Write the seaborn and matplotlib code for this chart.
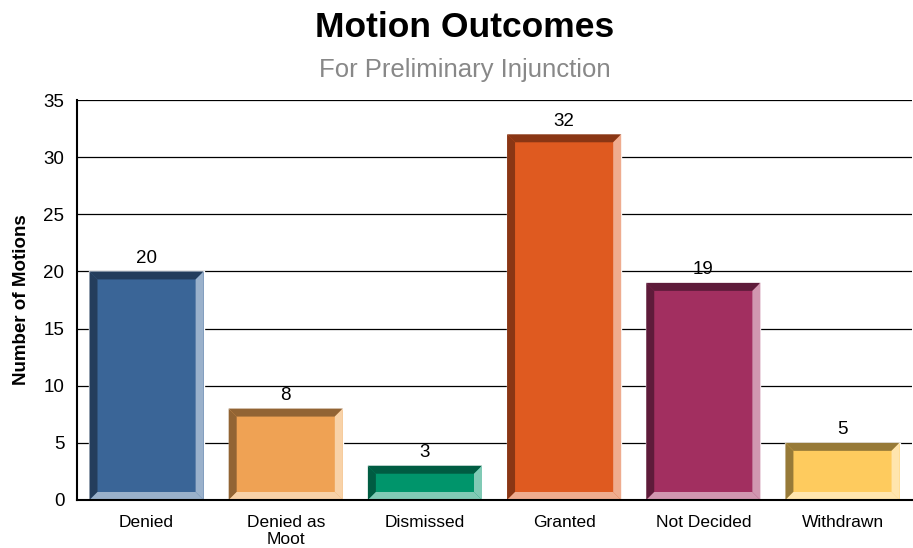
import matplotlib
matplotlib.use("Agg")
import matplotlib.pyplot as plt
from matplotlib.patches import Polygon
import seaborn as sns
import pandas as pd

# Chart data
outcomes = ["Denied", "Denied as\nMoot", "Dismissed", "Granted", "Not Decided", "Withdrawn"]
motions = [20, 8, 3, 32, 19, 5]

# face / dark bevel (left, top) / light bevel (right, bottom)
main_colors = ["#3A6597", "#EFA254", "#00956B", "#DF5A20", "#A22F60", "#FECB5E"]
dark_colors = ["#243D5C", "#926434", "#005C42", "#8A3614", "#5E1B3A", "#977A38"]
light_colors = ["#9AB1CB", "#F8D2A8", "#80CAB5", "#EFAC8F", "#D197B0", "#FFE5AE"]

df = pd.DataFrame({"outcome": outcomes, "count": motions})

sns.set_style("white")
plt.rcParams["font.family"] = ["Liberation Sans", "DejaVu Sans"]

fig = plt.figure(figsize=(9.13, 5.48), dpi=100)
ax = fig.add_axes([0.0843, 0.0876, 0.9147, 0.7299])

sns.barplot(data=df, x="outcome", y="count", hue="outcome", palette=main_colors,
            width=0.82, legend=False, saturation=1, ax=ax, zorder=3)

ax.set_ylim(0, 35)
ax.set_xlim(-0.5, len(outcomes) - 0.5)
ax.set_yticks(range(0, 36, 5))
ax.yaxis.grid(True, color="black", linewidth=0.9, zorder=0)
ax.set_axisbelow(True)

# bevel edges around each bar, sized in pixels
px_x = (len(outcomes)) / (0.9147 * 913)
px_y = 35 / (0.7299 * 548)
bx, by = 8 * px_x, 8 * px_y
for bar, dk, lt, val in zip(ax.patches, dark_colors, light_colors, motions):
    x0, w, h = bar.get_x(), bar.get_width(), bar.get_height()
    x1 = x0 + w
    # left
    ax.add_patch(Polygon([(x0, 0), (x0, h), (x0 + bx, h - by), (x0 + bx, by)],
                         closed=True, facecolor=dk, edgecolor="none", zorder=4))
    # top
    ax.add_patch(Polygon([(x0, h), (x1, h), (x1 - bx, h - by), (x0 + bx, h - by)],
                         closed=True, facecolor=dk, edgecolor="none", zorder=4))
    # right
    ax.add_patch(Polygon([(x1, h), (x1, 0), (x1 - bx, by), (x1 - bx, h - by)],
                         closed=True, facecolor=lt, edgecolor="none", zorder=4))
    # bottom
    ax.add_patch(Polygon([(x0, 0), (x1, 0), (x1 - bx, by), (x0 + bx, by)],
                         closed=True, facecolor=lt, edgecolor="none", zorder=4))
    ax.text(x0 + w / 2, h + 0.4, str(val), ha="center", va="bottom",
            fontsize=13.5, color="black", zorder=5)

for side in ["top", "right"]:
    ax.spines[side].set_visible(False)
for side in ["left", "bottom"]:
    ax.spines[side].set_color("black")
    ax.spines[side].set_linewidth(1.5)
    ax.spines[side].set_zorder(6)

ax.tick_params(axis="both", length=0, colors="black", labelcolor="black")
ax.tick_params(axis="y", pad=9, labelsize=13.5)
ax.tick_params(axis="x", pad=11, labelsize=12.5)
ax.set_xlabel("")
ax.set_ylabel("Number of Motions", fontsize=13.5, fontweight="bold",
              color="black", labelpad=10)
for lbl in ax.get_xticklabels():
    lbl.set_linespacing(1.15)

fig.text(0.509, 0.949, "Motion Outcomes", ha="center", va="center",
         fontsize=25.5, fontweight="bold", color="black")
fig.text(0.509, 0.872, "For Preliminary Injunction", ha="center", va="center",
         fontsize=18.5, color="#888888")

fig.savefig("out.png", dpi=100, facecolor="white")
